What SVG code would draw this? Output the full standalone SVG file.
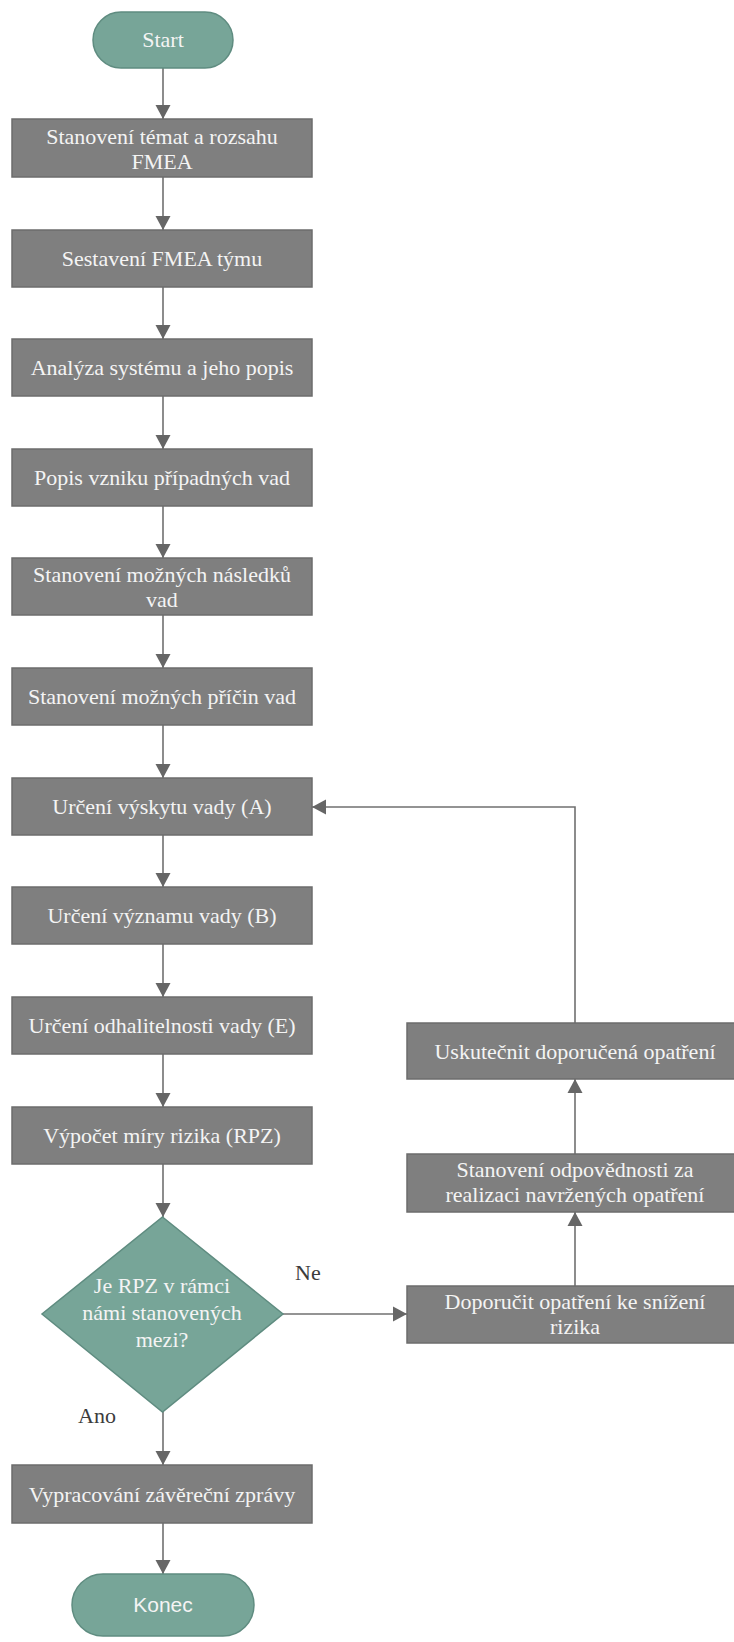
<svg xmlns="http://www.w3.org/2000/svg" width="734" height="1642" viewBox="0 0 734 1642">
<style>
.box{fill:#7f7f7f;stroke:#6c6c6c;stroke-width:1.5}
.term{fill:#77a598;stroke:#5f8c80;stroke-width:1.5}
.t{font-family:"Liberation Serif","Times New Roman",serif;font-size:22px;fill:#f4f4f4;text-anchor:middle}
.ts{font-family:"Liberation Sans",Arial,sans-serif;font-size:21px;fill:#f4f4f4;text-anchor:middle}
.lbl{font-family:"Liberation Serif","Times New Roman",serif;font-size:22px;fill:#3c3c3c}
.c{fill:none;stroke:#707070;stroke-width:1.6}
</style>
<defs>
<marker id="ah" markerUnits="userSpaceOnUse" markerWidth="16" markerHeight="16" viewBox="0 0 16 16" refX="15" refY="8" orient="auto">
<path d="M1,0.5 L15,8 L1,15.5 Z" fill="#666666"/>
</marker>
</defs>
<rect width="734" height="1642" fill="#ffffff"/>
<g id="connectors">
<line class="c" x1="163" y1="68" x2="163" y2="119" marker-end="url(#ah)"/>
<line class="c" x1="163" y1="177" x2="163" y2="230" marker-end="url(#ah)"/>
<line class="c" x1="163" y1="287" x2="163" y2="339" marker-end="url(#ah)"/>
<line class="c" x1="163" y1="396" x2="163" y2="449" marker-end="url(#ah)"/>
<line class="c" x1="163" y1="506" x2="163" y2="558" marker-end="url(#ah)"/>
<line class="c" x1="163" y1="615" x2="163" y2="668" marker-end="url(#ah)"/>
<line class="c" x1="163" y1="725" x2="163" y2="778" marker-end="url(#ah)"/>
<line class="c" x1="163" y1="835" x2="163" y2="887" marker-end="url(#ah)"/>
<line class="c" x1="163" y1="944" x2="163" y2="997" marker-end="url(#ah)"/>
<line class="c" x1="163" y1="1054" x2="163" y2="1107" marker-end="url(#ah)"/>
<line class="c" x1="163" y1="1164" x2="163" y2="1217" marker-end="url(#ah)"/>
<line class="c" x1="163" y1="1412" x2="163" y2="1465" marker-end="url(#ah)"/>
<line class="c" x1="163" y1="1523" x2="163" y2="1574" marker-end="url(#ah)"/>
<line class="c" x1="283" y1="1314" x2="407" y2="1314" marker-end="url(#ah)"/>
<line class="c" x1="575" y1="1286" x2="575" y2="1212" marker-end="url(#ah)"/>
<line class="c" x1="575" y1="1154" x2="575" y2="1079" marker-end="url(#ah)"/>
<polyline class="c" points="575,1023 575,807 312,807" marker-end="url(#ah)"/>
<text class="lbl" x="295" y="1280">Ne</text>
<text class="lbl" x="78" y="1423">Ano</text>
</g>
<g id="start">
<rect class="term" x="93" y="12" width="140" height="56" rx="28"/>
<text class="t" x="163" y="47">Start</text>
</g>
<g id="n1">
<rect class="box" x="12" y="119" width="300" height="58"/>
<text class="t" x="162" y="144">Stanovení témat a rozsahu</text>
<text class="t" x="162" y="169">FMEA</text>
</g>
<g id="n2">
<rect class="box" x="12" y="230" width="300" height="57"/>
<text class="t" x="162" y="266">Sestavení FMEA týmu</text>
</g>
<g id="n3">
<rect class="box" x="12" y="339" width="300" height="57"/>
<text class="t" x="162" y="375">Analýza systému a jeho popis</text>
</g>
<g id="n4">
<rect class="box" x="12" y="449" width="300" height="57"/>
<text class="t" x="162" y="485">Popis vzniku případných vad</text>
</g>
<g id="n5">
<rect class="box" x="12" y="558" width="300" height="57"/>
<text class="t" x="162" y="582">Stanovení možných následků</text>
<text class="t" x="162" y="607">vad</text>
</g>
<g id="n6">
<rect class="box" x="12" y="668" width="300" height="57"/>
<text class="t" x="162" y="704">Stanovení možných příčin vad</text>
</g>
<g id="n7">
<rect class="box" x="12" y="778" width="300" height="57"/>
<text class="t" x="162" y="814">Určení výskytu vady (A)</text>
</g>
<g id="n8">
<rect class="box" x="12" y="887" width="300" height="57"/>
<text class="t" x="162" y="923">Určení významu vady (B)</text>
</g>
<g id="n9">
<rect class="box" x="12" y="997" width="300" height="57"/>
<text class="t" x="162" y="1033">Určení odhalitelnosti vady (E)</text>
</g>
<g id="n10">
<rect class="box" x="12" y="1107" width="300" height="57"/>
<text class="t" x="162" y="1143">Výpočet míry rizika (RPZ)</text>
</g>
<g id="decision">
<polygon class="term" points="162.5,1217 283,1314 162.5,1412 42,1314"/>
<text class="t" x="162" y="1293">Je RPZ v rámci</text>
<text class="t" x="162" y="1320">námi stanovených</text>
<text class="t" x="162" y="1347">mezi?</text>
</g>
<g id="n11">
<rect class="box" x="12" y="1465" width="300" height="58"/>
<text class="t" x="162" y="1502">Vypracování závěreční zprávy</text>
</g>
<g id="end">
<rect class="term" x="72" y="1574" width="182" height="62" rx="31"/>
<text class="ts" x="163" y="1612">Konec</text>
</g>
<g id="r1">
<rect class="box" x="407" y="1286" width="336" height="57"/>
<text class="t" x="575" y="1309">Doporučit opatření ke snížení</text>
<text class="t" x="575" y="1334">rizika</text>
</g>
<g id="r2">
<rect class="box" x="407" y="1154" width="336" height="58"/>
<text class="t" x="575" y="1177">Stanovení odpovědnosti za</text>
<text class="t" x="575" y="1202">realizaci navržených opatření</text>
</g>
<g id="r3">
<rect class="box" x="407" y="1023" width="336" height="56"/>
<text class="t" x="575" y="1059">Uskutečnit doporučená opatření</text>
</g>
</svg>
